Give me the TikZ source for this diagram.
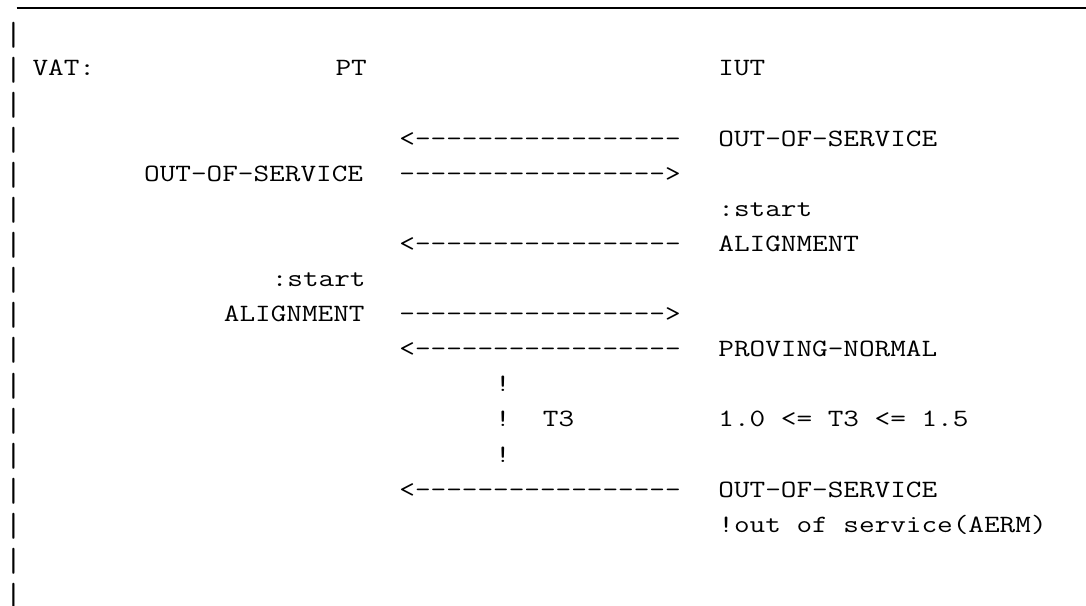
\documentclass[tikz,border=0pt]{standalone}
\usepackage{tikz}
\usetikzlibrary{calc}

\newcommand{\ttwide}[1]{\scalebox{1.22}[1]{#1}}
\newcommand{\ttbar}{\raisebox{-3.5pt}{\resizebox*{!}{13pt}{\raisebox{\depth}{|}}}}
\newcommand{\msgin}{<\foreach \i in {1,...,17}{-}}
\newcommand{\msgout}{\foreach \i in {1,...,17}{-}>}

\begin{document}
\begin{tikzpicture}[x=7.975pt,y=-17.55pt]

    \tikzstyle{screen text}=[anchor=base west,inner sep=0pt,outer sep=0pt,font=\fontsize{12.44}{15}\selectfont\ttfamily]
    \tikzstyle{rule line}=[line width=0.7pt,color=black]
    \useasboundingbox (0,0) rectangle (68.09,17.24);

    % top rule and left margin
    \coordinate (ruleL) at (1.05,0.23);
    \coordinate (ruleR) at (68.09,0.23);
    \draw[style=rule line] (ruleL) -- (ruleR);
    \foreach \r in {1,...,17}
        \node[style=screen text] (bar\r) at (0.3,\r+0.165) {\ttbar};

    % header
    \node[style=screen text] (vat) at (2.04,2.165) {\ttwide{VAT:}};
    \node[style=screen text] (pt) at (21.04,2.165) {\ttwide{PT}};
    \node[style=screen text] (iut) at (45.04,2.165) {\ttwide{IUT}};

    % out of service
    \node[style=screen text] (oosIn) at (25.04,4.165) {\ttwide{\msgin}};
    \node[style=screen text] (oosIut) at (45.04,4.165) {\ttwide{OUT-OF-SERVICE}};
    \node[style=screen text] (oosPt) at (9.04,5.165) {\ttwide{OUT-OF-SERVICE}};
    \node[style=screen text] (oosOut) at (25.04,5.165) {\ttwide{\msgout}};

    % alignment
    \node[style=screen text] (startIut) at (45.04,6.165) {\ttwide{:start}};
    \node[style=screen text] (alnIn) at (25.04,7.165) {\ttwide{\msgin}};
    \node[style=screen text] (alnIut) at (45.04,7.165) {\ttwide{ALIGNMENT}};
    \node[style=screen text] (startPt) at (17.04,8.165) {\ttwide{:start}};
    \node[style=screen text] (alnPt) at (14.04,9.165) {\ttwide{ALIGNMENT}};
    \node[style=screen text] (alnOut) at (25.04,9.165) {\ttwide{\msgout}};

    % proving and timer T3
    \node[style=screen text] (pnIn) at (25.04,10.165) {\ttwide{\msgin}};
    \node[style=screen text] (pnIut) at (45.04,10.165) {\ttwide{PROVING-NORMAL}};
    \foreach \r in {11,12,13}
        \node[style=screen text] (tick\r) at (31.04,\r+0.165) {\ttwide{!}};
    \node[style=screen text] (tthree) at (34.04,12.165) {\ttwide{T3}};
    \node[style=screen text] (trange) at (45.04,12.165) {\ttwide{1.0 <= T3 <= 1.5}};

    % back to out of service
    \node[style=screen text] (endIn) at (25.04,14.165) {\ttwide{\msgin}};
    \node[style=screen text] (endIut) at (45.04,14.165) {\ttwide{OUT-OF-SERVICE}};
    \node[style=screen text] (endNote) at (45.04,15.165) {\ttwide{!out of service(AERM)}};

\end{tikzpicture}
\end{document}
